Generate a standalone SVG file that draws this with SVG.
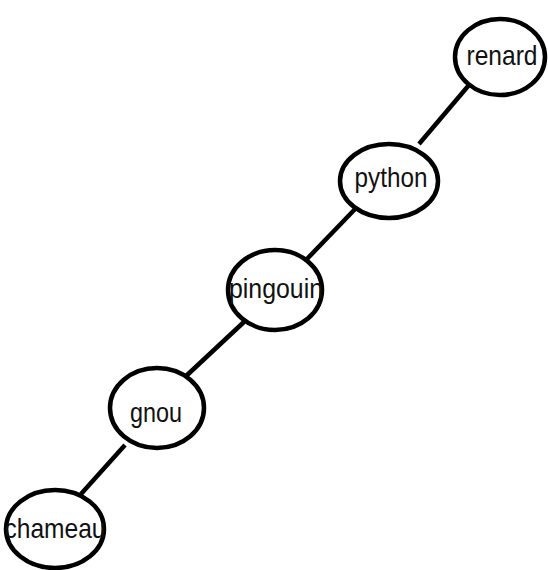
<svg xmlns="http://www.w3.org/2000/svg" width="548" height="570" viewBox="0 0 548 570">
  <style>
    .edge { stroke: #000; stroke-width: 4.5; stroke-linecap: butt; fill: none; }
    .node ellipse { fill: #fff; stroke: #000; stroke-width: 4.5; }
    .node text { font-family: "Liberation Sans", Arial, sans-serif; font-size: 28px; fill: #111; text-anchor: middle; }
  </style>
  <rect width="548" height="570" fill="#fff"/>
  <g id="connectors">
    <line class="edge" x1="469" y1="85" x2="419" y2="144"/>
    <line class="edge" x1="358" y1="206" x2="306" y2="260"/>
    <line class="edge" x1="245" y1="321" x2="185" y2="377"/>
    <line class="edge" x1="125" y1="445" x2="81" y2="494"/>
  </g>
  <g id="renard" class="node">
    <ellipse cx="500" cy="57" rx="45" ry="38"/>
    <text x="502" y="65" textLength="71" lengthAdjust="spacingAndGlyphs">renard</text>
  </g>
  <g id="python" class="node">
    <ellipse cx="389" cy="181" rx="49" ry="37"/>
    <text x="391" y="187" textLength="73" lengthAdjust="spacingAndGlyphs">python</text>
  </g>
  <g id="pingouin" class="node">
    <ellipse cx="275" cy="290" rx="47" ry="40"/>
    <text x="276" y="298" textLength="94" lengthAdjust="spacingAndGlyphs">pingouin</text>
  </g>
  <g id="gnou" class="node">
    <ellipse cx="157" cy="408" rx="47" ry="40"/>
    <text x="156" y="422" textLength="52" lengthAdjust="spacingAndGlyphs">gnou</text>
  </g>
  <g id="chameau" class="node">
    <ellipse cx="55" cy="529" rx="49" ry="39"/>
    <text x="55" y="538" textLength="101" lengthAdjust="spacingAndGlyphs">chameau</text>
  </g>
</svg>
